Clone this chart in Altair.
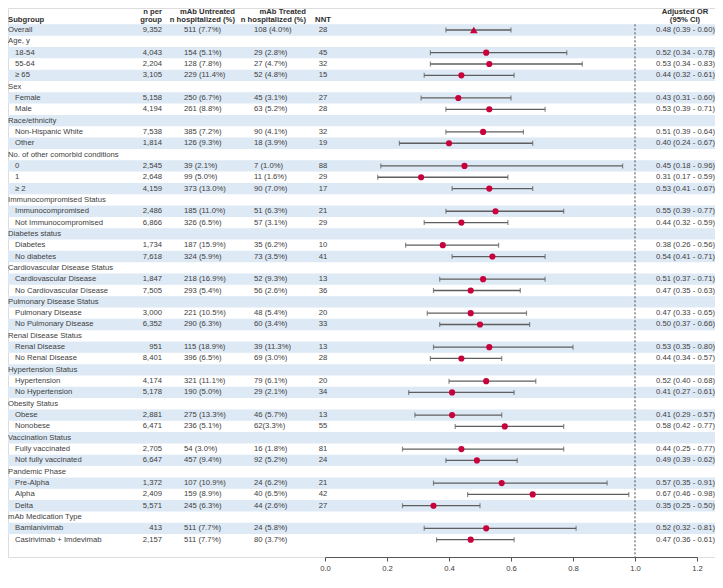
import altair as alt
import pandas as pd

# ---------------- data ----------------
labels = [
    "Overall", "Age, y", "18-54", "55-64", "≥ 65",
    "Sex", "Female", "Male",
    "Race/ethnicity", "Non-Hispanic White", "Other",
    "No. of other comorbid conditions", "0", "1", "≥ 2",
    "Immunocompromised Status", "Immunocompromised", "Not Immunocompromised",
    "Diabetes status", "Diabetes", "No diabetes",
    "Cardiovascular Disease Status", "Cardiovascular Disease", "No Cardiovascular Disease",
    "Pulmonary Disease Status", "Pulmonary Disease", "No Pulmonary Disease",
    "Renal Disease Status", "Renal Disease", "No Renal Disease",
    "Hypertension Status", "Hypertension", "No Hypertension",
    "Obesity Status", "Obese", "Nonobese",
    "Vaccination Status", "Fully vaccinated", "Not fully vaccinated",
    "Pandemic Phase", "Pre-Alpha", "Alpha", "Delta",
    "mAb Medication Type", "Bamlanivimab", "Casirivimab + Imdevimab",
]
level = [
    0, 0, 1, 1, 1,
    0, 1, 1,
    0, 1, 1,
    0, 1, 1, 1,
    0, 1, 1,
    0, 1, 1,
    0, 1, 1,
    0, 1, 1,
    0, 1, 1,
    0, 1, 1,
    0, 1, 1,
    0, 1, 1,
    0, 1, 1, 1,
    0, 1, 1,
]
n_group = [
    "9,352", "", "4,043", "2,204", "3,105",
    "", "5,158", "4,194",
    "", "7,538", "1,814",
    "", "2,545", "2,648", "4,159",
    "", "2,486", "6,866",
    "", "1,734", "7,618",
    "", "1,847", "7,505",
    "", "3,000", "6,352",
    "", "951", "8,401",
    "", "4,174", "5,178",
    "", "2,881", "6,471",
    "", "2,705", "6,647",
    "", "1,372", "2,409", "5,571",
    "", "413", "2,157",
]
untreated = [
    "511 (7.7%)", "", "154 (5.1%)", "128 (7.8%)", "229 (11.4%)",
    "", "250 (6.7%)", "261 (8.8%)",
    "", "385 (7.2%)", "126 (9.3%)",
    "", "39 (2.1%)", "99 (5.0%)", "373 (13.0%)",
    "", "185 (11.0%)", "326 (6.5%)",
    "", "187 (15.9%)", "324 (5.9%)",
    "", "218 (16.9%)", "293 (5.4%)",
    "", "221 (10.5%)", "290 (6.3%)",
    "", "115 (18.9%)", "396 (6.5%)",
    "", "321 (11.1%)", "190 (5.0%)",
    "", "275 (13.3%)", "236 (5.1%)",
    "", "54 (3.0%)", "457 (9.4%)",
    "", "107 (10.9%)", "159 (8.9%)", "245 (6.3%)",
    "", "511 (7.7%)", "511 (7.7%)",
]
treated = [
    "108 (4.0%)", "", "29 (2.8%)", "27 (4.7%)", "52 (4.8%)",
    "", "45 (3.1%)", "63 (5.2%)",
    "", "90 (4.1%)", "18 (3.9%)",
    "", "7 (1.0%)", "11 (1.6%)", "90 (7.0%)",
    "", "51 (6.3%)", "57 (3.1%)",
    "", "35 (6.2%)", "73 (3.5%)",
    "", "52 (9.3%)", "56 (2.6%)",
    "", "48 (5.4%)", "60 (3.4%)",
    "", "39 (11.3%)", "69 (3.0%)",
    "", "79 (6.1%)", "29 (2.1%)",
    "", "46 (5.7%)", "62(3.3%)",
    "", "16 (1.8%)", "92 (5.2%)",
    "", "24 (6.2%)", "40 (6.5%)", "44 (2.6%)",
    "", "24 (5.8%)", "80 (3.7%)",
]
nnt = [
    "28", "", "45", "32", "15",
    "", "27", "28",
    "", "32", "19",
    "", "88", "29", "17",
    "", "21", "29",
    "", "10", "41",
    "", "13", "36",
    "", "20", "33",
    "", "13", "28",
    "", "20", "34",
    "", "13", "55",
    "", "81", "24",
    "", "21", "42", "27",
    "", "", "",
]
N = None
or_est = [0.48, N, 0.52, 0.53, 0.44, N, 0.43, 0.53, N, 0.51, 0.40,
          N, 0.45, 0.31, 0.53, N, 0.55, 0.44, N, 0.38, 0.54,
          N, 0.51, 0.47, N, 0.47, 0.50, N, 0.53, 0.44, N, 0.52, 0.41,
          N, 0.41, 0.58, N, 0.44, 0.49, N, 0.57, 0.67, 0.35, N, 0.52, 0.47]
or_lo = [0.39, N, 0.34, 0.34, 0.32, N, 0.31, 0.39, N, 0.39, 0.24,
         N, 0.18, 0.17, 0.41, N, 0.39, 0.32, N, 0.26, 0.41,
         N, 0.37, 0.35, N, 0.33, 0.37, N, 0.35, 0.34, N, 0.40, 0.27,
         N, 0.29, 0.42, N, 0.25, 0.39, N, 0.35, 0.46, 0.25, N, 0.32, 0.36]
or_hi = [0.60, N, 0.78, 0.83, 0.61, N, 0.60, 0.71, N, 0.64, 0.67,
         N, 0.96, 0.59, 0.67, N, 0.77, 0.59, N, 0.56, 0.71,
         N, 0.71, 0.63, N, 0.65, 0.66, N, 0.80, 0.57, N, 0.68, 0.61,
         N, 0.57, 0.77, N, 0.77, 0.62, N, 0.91, 0.98, 0.50, N, 0.81, 0.61]
x_ticks = [0.0, 0.2, 0.4, 0.6, 0.8, 1.0, 1.2]

header_lines = [
    # text, x(px), y(px), align
    ("Subgroup", 0, 12, "left"),
    ("n per", 154, 3.5, "right"),
    ("group", 154, 12, "right"),
    ("mAb Untreated", 227, 3.5, "right"),
    ("n hospitalized (%)", 227, 12, "right"),
    ("mAb Treated", 298, 3.5, "right"),
    ("n hospitalized (%)", 298, 12, "right"),
    ("NNT", 315, 12, "center"),
    ("Adjusted OR", 677, 3.5, "center"),
    ("(95% CI)", 677, 12, "center"),
]

# ---------------- table ----------------
def fmt(e, l, h):
    if e is None:
        return ""
    return f"{e:.2f} ({l:.2f} - {h:.2f})"

df = pd.DataFrame({
    "row": list(range(len(labels))),
    "label": labels,
    "level": level,
    "n": n_group,
    "untreated": untreated,
    "treated": treated,
    "nnt": nnt,
    "est": or_est,
    "lo": or_lo,
    "hi": or_hi,
})
df["or_text"] = [fmt(e, l, h) for e, l, h in zip(or_est, or_lo, or_hi)]

FONT = "Liberation Sans"
TXT = "#404040"
RED = "#c8003c"
BAR = "#5e5e5e"
FS = 7.7
W, H = 707, 549
ROW0 = 22.0
nrows = len(labels)
ROWN = H - 17.3
STEP = (ROWN - ROW0) / (nrows - 1)

ys = alt.Scale(domain=[0, nrows - 1], range=[ROW0, ROWN], nice=False, zero=False)
xs = alt.Scale(domain=[0, 1.2], range=[317, 689], nice=False, zero=False)
xaxis = alt.Axis(values=x_ticks, format=".1f", title=None, grid=False, labelFlush=False,
                 domainColor="#555555", tickColor="#555555", tickSize=4,
                 labelColor=TXT, labelFontSize=FS, labelFont=FONT, labelPadding=3)
Y = alt.Y("row:Q", scale=ys, axis=None)

base = alt.Chart(df)

stripes = base.transform_filter("datum.row % 2 == 0").transform_calculate(
    y0="datum.row - 0.5", y1="datum.row + 0.5"
).mark_rect(color="#dde9f5").encode(
    x=alt.value(0), x2=alt.value(W),
    y=alt.Y("y0:Q", scale=ys, axis=None), y2="y1:Q",
)

ref = alt.Chart(pd.DataFrame({"v": [1.0]})).mark_rule(
    color="#444444", strokeDash=[2, 2], strokeWidth=1
).encode(
    x=alt.X("v:Q", scale=xs, axis=xaxis),
    y=alt.value(ROW0 - STEP / 2), y2=alt.value(H),
)

valid = base.transform_filter("isValid(datum.est)")

bars = valid.mark_rule(color=BAR, strokeWidth=1.3).encode(
    x=alt.X("lo:Q", scale=xs, axis=xaxis), x2="hi:Q", y=Y,
)
cap_lo = valid.mark_tick(color=BAR, orient="vertical", size=5, thickness=1.2).encode(
    x=alt.X("lo:Q", scale=xs, axis=xaxis), y=Y,
)
cap_hi = valid.mark_tick(color=BAR, orient="vertical", size=5, thickness=1.2).encode(
    x=alt.X("hi:Q", scale=xs, axis=xaxis), y=Y,
)
dots = valid.transform_filter("datum.row > 0").mark_point(
    filled=True, shape="circle", size=38, color=RED, opacity=1
).encode(x=alt.X("est:Q", scale=xs, axis=xaxis), y=Y)
tri = valid.transform_filter("datum.row == 0").mark_point(
    filled=True, shape="triangle-up", size=60, color=RED, opacity=1
).encode(x=alt.X("est:Q", scale=xs, axis=xaxis), y=Y)


def col(field, xpx, align, flt=None):
    c = base
    if flt:
        c = c.transform_filter(flt)
    return c.mark_text(align=align, baseline="middle", font=FONT, fontSize=FS, color=TXT).encode(
        text=f"{field}:N", x=alt.value(xpx), y=Y,
    )

texts = [
    col("label", 0, "left", "datum.level == 0"),
    col("label", 7, "left", "datum.level == 1"),
    col("n", 154, "right"),
    col("untreated", 176, "left"),
    col("treated", 246, "left"),
    col("nnt", 315, "center"),
    col("or_text", 648, "left"),
]

headers = []
for t, xp, yp, al in header_lines:
    headers.append(
        alt.Chart(pd.DataFrame({"t": [t]})).mark_text(
            align=al, baseline="middle", font=FONT, fontSize=FS, fontWeight="bold", color="#2e2e2e"
        ).encode(text="t:N", x=alt.value(xp), y=alt.value(yp))
    )

chart = alt.layer(
    stripes, ref, bars, cap_lo, cap_hi, dots, tri, *texts, *headers
).properties(
    width=W, height=H,
    autosize=alt.AutoSizeParams(type="none"),
    padding={"left": 0, "top": 0, "right": 0, "bottom": 17},
).configure_view(stroke=None).configure(font=FONT)

chart.save("out.html", embed_options={"renderer": "svg", "actions": False})
